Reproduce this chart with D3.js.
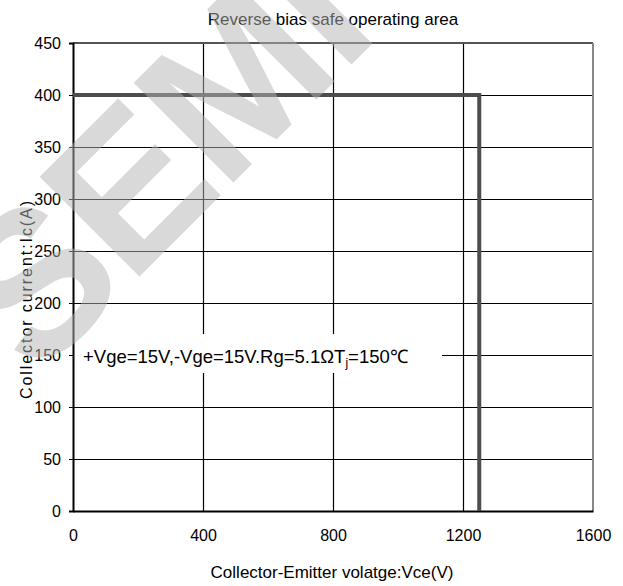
<!DOCTYPE html>
<html>
<head>
<meta charset="utf-8">
<script src="https://d3js.org/d3.v7.min.js"></script>
<title>Reverse bias safe operating area</title>
</head>
<style>
body { margin: 0; background: #fff; }
svg { display: block; }
text { font-family: "Liberation Sans", Arial, sans-serif; }
</style>
<body>
<svg width="623" height="586"></svg>
</body>
<script>

// data
let vceTicks = [0, 400, 800, 1200, 1600];
let icTicks = [0, 50, 100, 150, 200, 250, 300, 350, 400, 450];
let soaVce = [0, 1250, 1250];
let soaIc = [400, 400, 0];

let svg = d3.select("svg");
let plotLeft = 73, plotRight = 593, plotTop = 43, plotBottom = 511;

let x = d3.scaleLinear().domain([0, 1600]).range([plotLeft, plotRight]);
let y = d3.scaleLinear().domain([0, 450]).range([plotBottom, plotTop]);

// horizontal grid lines
let gy = svg.append("g")
  .attr("transform", "translate(" + plotLeft + ",0)")
  .call(d3.axisLeft(y).tickValues(icTicks.filter(d => d > 0 && d < 450))
    .tickSize(-(plotRight - plotLeft)).tickFormat(""));
gy.select(".domain").remove();
gy.selectAll("line").attr("stroke", "#000").attr("stroke-width", 1.2);

// vertical grid lines
let gx = svg.append("g")
  .attr("transform", "translate(0," + plotBottom + ")")
  .call(d3.axisBottom(x).tickValues(vceTicks.filter(d => d > 0 && d < 1600))
    .tickSize(-(plotBottom - plotTop)).tickFormat(""));
gx.select(".domain").remove();
gx.selectAll("line").attr("stroke", "#000").attr("stroke-width", 1.2);

// top and right frame
svg.append("line").attr("x1", x(0)).attr("x2", x(1600)).attr("y1", y(450)).attr("y2", y(450))
  .attr("stroke", "#555").attr("stroke-width", 2);
svg.append("line").attr("x1", x(1600)).attr("x2", x(1600)).attr("y1", y(450)).attr("y2", y(0))
  .attr("stroke", "#888").attr("stroke-width", 2);

// annotation box (white behind text hides grid)
svg.append("rect").attr("x", x(0) + 1).attr("y", 334)
  .attr("width", 442 - x(0) - 1).attr("height", 39).attr("fill", "#fff");

// left axis with tick labels
let ay = svg.append("g")
  .attr("transform", "translate(" + plotLeft + ",0)")
  .call(d3.axisLeft(y).tickValues(icTicks).tickSize(4).tickPadding(8).tickFormat(d3.format("d")));
ay.select(".domain").attr("stroke", "#000").attr("stroke-width", 2);
ay.selectAll("line").attr("stroke", "#000");
ay.selectAll("text").attr("font-size", 16).attr("fill", "#000");

// bottom axis
let ax = svg.append("g")
  .attr("transform", "translate(0," + plotBottom + ")")
  .call(d3.axisBottom(x).tickValues(vceTicks).tickSize(0).tickPadding(19).tickFormat(d3.format("d")));
ax.select(".domain").attr("stroke", "#000").attr("stroke-width", 2);
ax.selectAll("text").attr("font-size", 16).attr("fill", "#000");

// RBSOA boundary
let soa = soaVce.map((v, i) => [v, soaIc[i]]);
svg.append("path")
  .datum(soa)
  .attr("d", d3.line().x(d => x(d[0])).y(d => y(d[1])))
  .attr("fill", "none")
  .attr("stroke", "#4d4d4d")
  .attr("stroke-width", 4)
  .attr("stroke-linejoin", "miter");

// condition text
let note = svg.append("text").attr("x", 83).attr("y", 363).attr("font-size", 18.5);
note.append("tspan").text("+Vge=15V,-Vge=15V.Rg=5.1ΩT");
note.append("tspan").attr("font-size", 12).attr("dy", 4).text("j");
note.append("tspan").attr("dy", -4).text("=150℃");

// titles
svg.append("text").attr("x", 333).attr("y", 25).attr("text-anchor", "middle")
  .attr("font-size", 17).text("Reverse bias safe operating area");
svg.append("text").attr("x", 332).attr("y", 578).attr("text-anchor", "middle")
  .attr("font-size", 17).text("Collector-Emitter volatge:Vce(V)");
svg.append("text").attr("transform", "translate(32,300) rotate(-90)")
  .attr("text-anchor", "middle").attr("font-size", 16)
  .attr("textLength", 198).attr("lengthAdjust", "spacing")
  .text("Collector current:Ic(A)");

// watermark laid over the chart
svg.append("text")
  .attr("transform", "translate(36,380) rotate(-45)")
  .attr("font-size", 205).attr("font-weight", "bold")
  .attr("letter-spacing", -4)
  .style("fill", "rgb(180,180,180)").attr("fill-opacity", 0.5)
  .text("SEMI");

</script>
</html>
